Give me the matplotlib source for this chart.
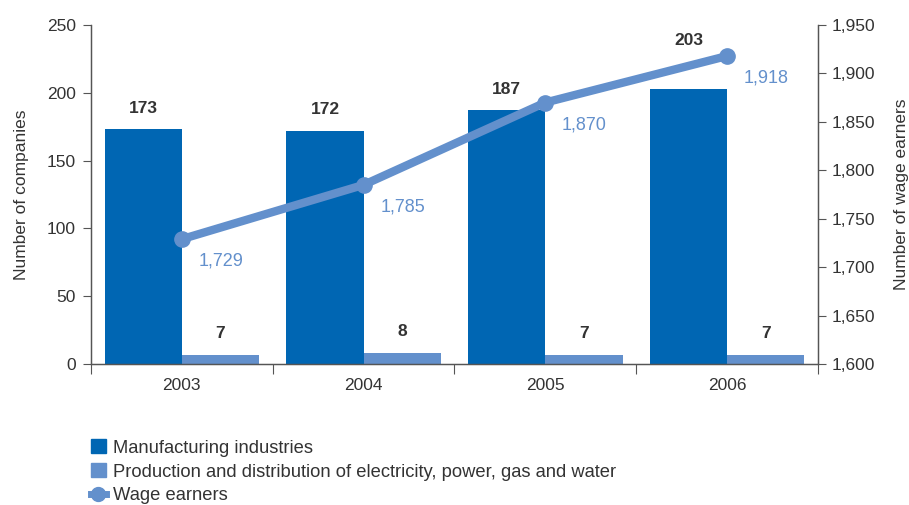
import numpy as np
import matplotlib.pyplot as plt
from matplotlib.lines import Line2D
from matplotlib.patches import Patch
from matplotlib.ticker import FuncFormatter

years = ["2003", "2004", "2005", "2006"]
manufacturing = [173, 172, 187, 203]
utilities = [7, 8, 7, 7]
wage_earners = [1729, 1785, 1870, 1918]

dark_blue = "#0066b3"
light_blue = "#6390cc"
text_col = "#333333"
axis_col = "#555555"

plt.rcParams["font.family"] = ["Liberation Sans", "DejaVu Sans"]
plt.rcParams["font.size"] = 12.5
plt.rcParams["text.color"] = text_col
plt.rcParams["axes.labelcolor"] = text_col
plt.rcParams["xtick.color"] = axis_col
plt.rcParams["ytick.color"] = axis_col
plt.rcParams["xtick.labelcolor"] = text_col
plt.rcParams["ytick.labelcolor"] = text_col

fig = plt.figure(figsize=(9.09, 5.05), dpi=100)
ax = fig.add_axes([0.1001, 0.279, 0.7998, 0.6715])
ax2 = ax.twinx()

x = np.arange(len(years))
w = 0.425
ax.bar(x + 0.5 - w, manufacturing, width=w, align="edge", color=dark_blue, zorder=2)
ax.bar(x + 0.5, utilities, width=w, align="edge", color=light_blue, zorder=2)

# the 2006 label sits higher to clear the line
man_offset = [10, 10, 10, 29]
for i in range(len(years)):
    ax.annotate(str(manufacturing[i]), (x[i] + 0.5 - w / 2, manufacturing[i]),
                xytext=(0, man_offset[i]), textcoords="offset points", ha="center",
                va="bottom", fontweight="bold", fontsize=12.5, color=text_col)
    ax.annotate(str(utilities[i]), (x[i] + 0.5 + w / 2, utilities[i]),
                xytext=(0, 10), textcoords="offset points", ha="center",
                va="bottom", fontweight="bold", fontsize=12.5, color=text_col)

ax.set_xlim(0, 4)
ax.set_ylim(0, 250)
ax.set_yticks(range(0, 251, 50))
ax.set_xticks(range(0, 5))
ax.set_xticklabels([])
ax.set_xticks(x + 0.5, minor=True)
ax.set_xticklabels(years, minor=True)
ax.tick_params(axis="x", which="major", length=7, direction="out")
ax.tick_params(axis="x", which="minor", length=0, pad=10, labelsize=12.5)
ax.tick_params(axis="y", length=6, labelsize=12.5, pad=5)
ax.set_ylabel("Number of companies", fontsize=12.5, labelpad=13)

ax2.set_zorder(ax.get_zorder() + 1)
ax2.patch.set_visible(False)
ax2.plot(x + 0.5, wage_earners, color=light_blue, lw=6, marker="o",
         markersize=11, solid_capstyle="round", zorder=3)
for i in range(len(years)):
    ax2.annotate(f"{wage_earners[i]:,}", (x[i] + 0.5, wage_earners[i]),
                 xytext=(28, -16), textcoords="offset points", ha="center",
                 va="center", fontsize=13, color=light_blue)
ax2.set_ylim(1600, 1950)
ax2.set_yticks(range(1600, 1951, 50))
ax2.yaxis.set_major_formatter(FuncFormatter(lambda v, p: f"{int(v):,}"))
ax2.tick_params(axis="y", length=6, labelsize=12.5, pad=4)
ax2.set_ylabel("Number of wage earners", fontsize=12.5, labelpad=13)

for a in (ax, ax2):
    a.spines["top"].set_visible(False)
    for s in ("left", "right", "bottom"):
        a.spines[s].set_color(axis_col)
        a.spines[s].set_linewidth(0.9)

handles = [
    Patch(color=dark_blue, label="Manufacturing industries"),
    Patch(color=light_blue, label="Production and distribution of electricity, power, gas and water"),
    Line2D([], [], color=light_blue, lw=5, marker="o", markersize=10, label="Wage earners"),
]
fig.legend(handles=handles, loc="upper left", bbox_to_anchor=(0.100, 0.130),
           frameon=False, fontsize=13.2, handlelength=0.8, handleheight=0.8,
           handletextpad=0.4, labelspacing=0.35, borderpad=0, borderaxespad=0)

fig.savefig("out.png", dpi=100)
